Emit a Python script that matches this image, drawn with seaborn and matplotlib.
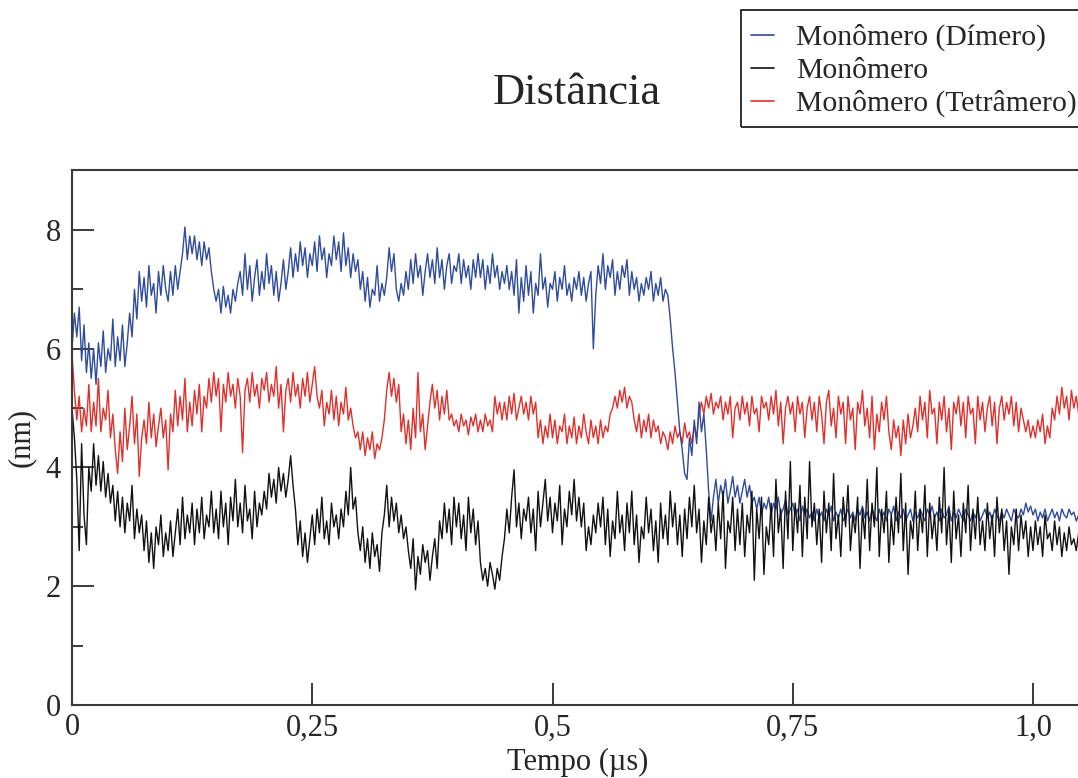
import numpy as np
import pandas as pd
import matplotlib
matplotlib.use("Agg")
import matplotlib.pyplot as plt
import matplotlib.patches as mpatches
import seaborn as sns
from matplotlib.ticker import FixedLocator

dt = 0.0025
series_names = ["Monômero (Dímero)", "Monômero", "Monômero (Tetrâmero)"]
series_colors = ["#2f4b9b", "#111111", "#e0302c"]

dimero = [
    6.0, 6.6, 6.2, 6.7, 5.8, 6.4, 5.6, 6.1, 5.5, 6.0,
    5.4, 6.1, 5.7, 6.3, 5.6, 6.0, 5.8, 6.5, 5.7, 6.2,
    5.8, 6.4, 5.7, 6.1, 6.6, 6.2, 7.0, 6.5, 7.3, 6.8,
    7.2, 6.7, 7.4, 6.9, 7.1, 6.6, 7.3, 6.9, 7.4, 7.0,
    6.8, 7.3, 6.9, 7.4, 7.0, 7.3, 7.6, 8.05, 7.5, 7.9,
    7.6, 7.9, 7.5, 7.8, 7.4, 7.8, 7.5, 7.7, 7.3, 7.0,
    6.8, 7.0, 6.6, 7.05, 6.7, 6.9, 6.6, 7.0, 6.8, 7.1,
    7.3, 6.9, 7.6, 7.0, 7.4, 6.8, 7.2, 7.5, 6.9, 7.3,
    7.0, 7.6, 7.1, 7.4, 6.9, 7.3, 6.8, 7.1, 7.5, 7.0,
    7.3, 7.7, 7.2, 7.6, 7.3, 7.8, 7.4, 7.7, 7.2, 7.6,
    7.4, 7.8, 7.3, 7.9, 7.5, 7.7, 7.2, 7.6, 7.4, 7.9,
    7.5, 7.8, 7.3, 7.95, 7.4, 7.7, 7.2, 7.6, 7.3, 7.5,
    7.0, 7.3, 6.8, 7.2, 6.7, 7.0, 6.9, 7.4, 6.8, 7.1,
    6.9, 7.2, 7.7, 7.3, 7.6, 7.0, 6.8, 7.1, 6.9, 7.3,
    7.0, 7.5, 7.1, 7.6, 7.2, 7.4, 6.9, 7.3, 7.6, 7.2,
    7.5, 7.1, 7.7, 7.2, 7.5, 7.0, 7.4, 7.6, 7.1, 7.4,
    7.3, 7.6, 7.1, 7.5, 7.2, 7.4, 7.0, 7.5, 7.2, 7.6,
    7.2, 7.5, 7.0, 7.4, 7.1, 7.6, 7.2, 7.4, 7.0, 7.3,
    7.1, 7.4, 7.0, 7.3, 6.9, 7.5, 6.6, 7.2, 6.8, 7.4,
    6.9, 7.3, 6.6, 7.1, 6.9, 7.6, 7.0, 7.2, 6.7, 7.1,
    7.0, 7.3, 6.8, 7.2, 7.0, 7.4, 6.9, 7.1, 6.8, 7.2,
    7.0, 7.3, 6.9, 7.2, 6.8, 7.1, 7.3, 6.0, 6.9, 7.4,
    7.1, 7.6, 7.0, 7.4, 7.2, 7.5, 6.9, 7.3, 7.0, 7.4,
    7.2, 7.5, 6.9, 7.3, 7.0, 7.2, 6.8, 7.1, 6.9, 7.2,
    7.0, 7.3, 6.8, 7.1, 6.9, 7.2, 6.8, 7.0, 6.9, 6.5,
    6.0, 5.6, 5.1, 4.6, 4.3, 3.9, 3.8, 4.5, 4.2, 4.8,
    4.4, 5.1, 4.6, 4.9, 4.3, 3.6, 3.1, 3.5, 3.8, 3.4,
    3.7, 3.5, 3.8, 3.4, 3.6, 3.85, 3.5, 3.7, 3.4, 3.6,
    3.8, 3.5, 3.7, 3.4, 3.5, 3.3, 3.5, 3.2, 3.4, 3.3,
    3.5, 3.2, 3.4, 3.3, 3.5, 3.2, 3.3, 3.45, 3.2, 3.3,
    3.4, 3.2, 3.3, 3.1, 3.35, 3.2, 3.3, 3.15, 3.25, 3.1,
    3.3, 3.15, 3.25, 3.1, 3.3, 3.2, 3.35, 3.1, 3.25, 3.15,
    3.3, 3.1, 3.2, 3.3, 3.15, 3.25, 3.1, 3.3, 3.2, 3.35,
    3.15, 3.25, 3.1, 3.3, 3.2, 3.1, 3.3, 3.15, 3.25, 3.1,
    3.3, 3.2, 3.35, 3.1, 3.25, 3.15, 3.3, 3.1, 3.2, 3.3,
    3.1, 3.25, 3.15, 3.3, 3.2, 3.1, 3.3, 3.2, 3.35, 3.15,
    3.25, 3.1, 3.3, 3.15, 3.2, 3.35, 3.1, 3.25, 3.15, 3.3,
    3.2, 3.1, 3.3, 3.2, 3.1, 3.25, 3.15, 3.3, 3.1, 3.2,
    3.3, 3.15, 3.25, 3.1, 3.3, 3.2, 3.1, 3.25, 3.15, 3.3,
    3.2, 3.1, 3.3, 3.2, 3.15, 3.3, 3.2, 3.4, 3.25, 3.35,
    3.2, 3.3, 3.1, 3.25, 3.15, 3.3, 3.1, 3.2, 3.3, 3.15,
    3.25, 3.1, 3.3, 3.2, 3.15, 3.3, 3.2, 3.25, 3.1, 3.2,
]

monomero = [
    5.0, 4.5, 3.8, 2.6, 4.4, 3.2, 2.7, 4.0, 3.6, 4.4,
    3.7, 4.2, 3.6, 4.1, 3.5, 3.9, 3.4, 3.7, 3.1, 3.6,
    3.0, 3.5, 2.9, 3.4, 3.1, 3.7, 2.8, 3.3, 2.9, 3.2,
    2.6, 3.1, 2.4, 2.9, 2.3, 3.0, 2.7, 3.2, 2.5, 2.9,
    2.6, 3.1, 2.5, 2.9, 3.3, 2.7, 3.5, 2.8, 3.2, 2.9,
    3.4, 2.7, 3.3, 2.9, 3.5, 2.8, 3.2, 3.0, 3.6, 2.9,
    3.3, 2.8, 3.6, 3.0, 3.4, 2.7, 3.5, 3.1, 3.8, 3.0,
    3.4, 2.9, 3.7, 3.1, 3.3, 2.8, 3.6, 3.0, 3.4, 3.2,
    3.6, 3.3, 3.9, 3.5, 3.8, 3.4, 4.0, 3.6, 3.9, 3.5,
    3.8, 4.2, 3.7, 3.3, 2.7, 3.1, 2.5, 2.9, 2.4, 2.8,
    3.2, 2.7, 3.3, 2.9, 3.5, 2.8, 3.1, 2.7, 3.4, 3.0,
    3.2, 2.8, 3.3, 3.0, 3.6, 3.2, 4.0, 3.3, 3.5, 2.9,
    2.6, 3.0, 2.4, 2.8, 2.3, 2.9, 2.5, 2.7, 2.25, 2.9,
    3.2, 3.7, 3.0, 3.5, 3.1, 3.4, 2.9, 3.2, 2.8, 3.0,
    2.6, 2.3, 2.8, 1.94, 2.5, 2.2, 2.7, 2.4, 2.6, 2.1,
    2.5, 2.8, 2.3, 3.1, 2.8, 3.4, 2.9, 3.3, 2.7, 3.5,
    3.0, 3.4, 2.8, 3.2, 2.6, 3.5, 2.9, 3.3, 2.7, 3.1,
    2.4, 2.1, 2.3, 2.0, 2.4, 2.2, 1.95, 2.3, 2.1, 2.5,
    2.8, 3.3, 2.9, 3.5, 3.96, 3.0, 3.4, 2.8, 3.3, 3.1,
    3.5, 2.9, 3.3, 2.6, 3.6, 3.0, 3.4, 3.8, 3.1, 3.5,
    2.9, 3.4, 3.1, 3.7, 2.7, 3.3, 3.0, 3.6, 3.2, 3.8,
    3.1, 3.5, 3.0, 3.4, 2.6, 3.0, 2.7, 3.2, 2.9, 3.4,
    3.0, 3.5, 2.7, 3.3, 2.5, 3.1, 2.8, 3.6, 2.9, 3.2,
    2.6, 3.4, 2.9, 3.6, 2.7, 3.2, 2.4, 3.0, 2.8, 3.5,
    2.9, 3.3, 2.6, 3.1, 2.4, 3.4, 2.8, 3.2, 2.7, 3.6,
    3.0, 3.4, 2.7, 3.2, 2.5, 3.3, 2.8, 3.5, 3.0, 3.7,
    2.9, 3.3, 2.4, 3.1, 2.7, 3.5, 2.9, 3.2, 2.6, 3.4,
    2.8, 3.6, 2.3, 3.1, 2.9, 3.5, 2.6, 3.3, 2.7, 3.4,
    2.5, 3.2, 2.9, 3.6, 2.1, 3.3, 2.8, 3.5, 2.2, 3.0,
    2.7, 3.4, 2.5, 3.8, 2.9, 3.3, 2.3, 3.6, 2.8, 4.1,
    2.6, 3.4, 2.9, 3.7, 2.5, 3.5, 2.8, 4.1, 3.0, 3.4,
    2.7, 3.3, 2.4, 3.6, 2.9, 3.4, 2.6, 3.9, 2.8, 3.2,
    2.5, 3.5, 3.0, 3.7, 2.6, 3.2, 2.9, 3.5, 2.3, 3.3,
    2.8, 3.8, 2.6, 3.4, 3.0, 4.0, 2.5, 3.3, 2.9, 3.6,
    2.4, 3.2, 2.7, 3.5, 2.9, 3.9, 2.6, 3.4, 2.2, 3.1,
    2.8, 3.6, 2.6, 3.3, 2.9, 3.7, 2.5, 3.4, 2.8, 3.2,
    2.6, 3.5, 2.9, 4.0, 2.7, 3.3, 2.4, 3.6, 2.8, 3.2,
    2.5, 3.4, 2.9, 3.7, 2.6, 3.3, 2.8, 3.5, 2.7, 3.1,
    2.6, 3.4, 2.8, 3.2, 2.5, 3.5, 2.9, 3.3, 2.6, 3.1,
    2.2, 3.0, 2.7, 3.3, 2.6, 3.2, 2.8, 3.1, 2.5, 3.0,
    2.6, 3.1, 2.7, 3.0, 2.5, 3.2, 2.8, 2.9, 2.6, 3.1,
    2.7, 3.0, 2.5, 2.9, 2.6, 3.0, 2.7, 2.8, 2.6, 2.9,
]

tetramero = [
    5.9, 5.3, 4.8, 5.2, 4.6, 5.0, 4.7, 5.4, 4.6, 5.1,
    4.7, 5.5, 4.6, 5.0, 4.8, 5.3, 4.5, 4.9, 4.3, 3.9,
    4.6, 4.1, 5.0, 4.3, 4.7, 5.2, 4.4, 4.9, 3.85, 4.5,
    4.8, 4.4, 5.1, 4.5, 4.9, 4.35, 4.7, 5.0, 4.5, 4.8,
    3.96, 4.9, 4.6, 5.3, 4.7, 5.2, 4.8, 5.5, 4.6, 5.1,
    4.7, 5.3, 4.9, 5.4, 4.6, 5.2, 5.0, 5.5, 5.1, 5.6,
    5.2, 5.5, 4.6, 5.4, 5.1, 5.6, 5.2, 5.4, 5.0, 5.5,
    5.2, 4.25, 5.3, 5.5, 5.1, 5.6, 5.2, 5.4, 5.0, 5.5,
    5.3, 5.6, 5.1, 5.4, 5.2, 5.7, 5.0, 5.4, 4.6, 5.3,
    5.5, 5.1, 5.6, 5.2, 5.4, 5.0, 5.5, 5.2, 5.6, 5.1,
    5.4, 5.7, 5.2, 5.0, 5.3, 4.7, 5.1, 4.9, 5.3, 4.8,
    5.2, 4.7, 5.1, 4.9, 5.35, 4.8, 5.0, 4.7, 4.5, 4.6,
    4.3, 4.6, 4.2, 4.5, 4.3, 4.6, 4.15, 4.4, 4.3, 4.5,
    4.8, 5.3, 5.6, 5.2, 5.5, 5.1, 5.4, 4.6, 4.9, 4.4,
    4.8, 4.3, 5.0, 4.5, 5.6, 4.6, 4.9, 4.3, 4.7, 5.1,
    5.4, 5.0, 5.3, 4.8, 5.2, 4.9, 5.3, 4.8, 4.9, 4.7,
    4.8, 4.6, 4.9, 4.7, 4.8, 4.55, 4.85, 4.7, 4.9, 4.6,
    4.8, 4.6, 4.9, 4.7, 4.8, 4.6, 5.2, 4.9, 5.1, 4.8,
    5.1, 4.8, 5.2, 4.9, 5.25, 4.8, 5.0, 5.2, 4.9, 5.1,
    4.8, 5.2, 4.9, 5.1, 4.5, 4.8, 4.4, 4.7, 4.5, 4.9,
    4.5, 4.8, 4.4, 4.7, 4.6, 4.9, 4.4, 4.7, 4.5, 4.85,
    4.4, 4.7, 4.5, 4.9, 4.6, 4.4, 4.8, 4.5, 4.7, 4.4,
    4.8, 4.5, 4.7, 4.6, 4.9, 5.0, 5.2, 5.0, 5.3, 5.1,
    5.35, 5.0, 5.2, 5.1, 4.8, 4.6, 4.9, 4.5, 4.8, 4.6,
    4.9, 4.5, 4.8, 4.6, 4.7, 4.4, 4.6, 4.5, 4.3, 4.6,
    4.4, 4.7, 4.5, 4.6, 4.4, 4.75, 4.5, 4.6, 4.4, 4.7,
    4.5, 4.9, 5.1, 4.9, 5.2, 5.0, 5.25, 4.9, 5.1, 5.0,
    5.2, 4.8, 5.1, 4.9, 5.2, 4.5, 5.0, 5.1, 4.8, 5.2,
    4.9, 5.1, 4.7, 5.2, 4.9, 5.0, 4.6, 5.2, 5.0, 5.1,
    4.8, 5.2, 4.9, 5.3, 4.7, 5.1, 4.4, 5.0, 5.2, 4.9,
    5.1, 4.6, 5.2, 4.9, 5.1, 4.5, 5.0, 5.2, 4.8, 5.1,
    4.6, 5.2, 4.9, 4.4, 5.1, 5.3, 4.7, 5.0, 4.5, 5.2,
    4.9, 5.1, 4.4, 5.2, 4.8, 5.0, 4.3, 5.1, 4.9, 5.3,
    4.7, 5.0, 4.5, 5.2, 4.3, 4.9, 4.6, 5.1, 4.8, 5.2,
    4.6, 4.3, 4.8, 4.5, 4.7, 4.2, 4.8, 4.4, 4.9, 4.5,
    4.7, 5.0, 4.6, 5.2, 4.8, 5.1, 4.5, 5.3, 4.9, 5.0,
    4.4, 5.1, 4.8, 5.2, 4.6, 5.0, 4.3, 5.1, 4.9, 5.2,
    4.7, 5.1, 4.5, 5.2, 4.9, 5.0, 4.4, 5.2, 4.8, 5.1,
    4.6, 5.0, 5.2, 4.7, 5.1, 4.4, 5.0, 5.2, 4.8, 5.1,
    4.9, 5.2, 4.7, 5.1, 4.6, 5.0, 4.8, 4.6, 4.8, 4.5,
    4.7, 4.5, 4.8, 4.6, 4.9, 4.4, 4.7, 4.5, 5.0, 4.8,
    5.2, 4.9, 5.35, 5.0, 5.2, 4.8, 5.3, 5.0, 5.2, 4.9,
]

x_ticks = [0, 0.25, 0.5, 0.75, 1.0]
x_tick_labels = ["0", "0,25", "0,5", "0,75", "1,0"]
y_ticks = [0, 2, 4, 6, 8]
y_tick_labels = ["0", "2", "4", "6", "8"]
y_minor_ticks = [1, 3, 5, 7]

# ---------------- build long-form table ----------------
frames = []
for name, vals in zip(series_names, [dimero, monomero, tetramero]):
    t = np.arange(len(vals)) * dt
    frames.append(pd.DataFrame({"t": t, "d": vals, "serie": name}))
df = pd.concat(frames, ignore_index=True)

# ---------------- style ----------------
sns.set_theme(style="ticks")
plt.rcParams["font.family"] = ["Liberation Serif", "DejaVu Serif"]

W, H = 1078, 778
fig = plt.figure(figsize=(W / 100, H / 100), dpi=100)
ax = fig.add_axes([72 / W, 73 / H, (W - 72) / W, (705 - 170) / H])

palette = dict(zip(series_names, series_colors))
draw_order = ["Monômero (Tetrâmero)", "Monômero (Dímero)", "Monômero"]
for name in draw_order:
    sns.lineplot(data=df[df["serie"] == name], x="t", y="d", color=palette[name],
                 lw=1.0, estimator=None, sort=False, ax=ax, label=name, legend=False)

ax.set_xlim(0, (W - 72) / 961)
ax.set_ylim(0, 9.01)

spine_c = "#3a3a3a"
for s in ["left", "bottom", "top"]:
    ax.spines[s].set_color(spine_c)
    ax.spines[s].set_linewidth(1.5)
ax.spines["right"].set_visible(False)

ax.set_xticks(x_ticks, labels=x_tick_labels)
ax.set_yticks(y_ticks, labels=y_tick_labels)
ax.yaxis.set_minor_locator(FixedLocator(y_minor_ticks))
ax.tick_params(axis="both", which="major", direction="in", length=16, width=1.4,
               color=spine_c, labelsize=22, top=False, right=False)
ax.tick_params(axis="y", which="minor", direction="in", length=8, width=1.4,
               color=spine_c, right=False)
ax.tick_params(axis="x", which="major", pad=6)
ax.tick_params(axis="y", which="major", pad=8)

ax.set_xlabel("Tempo (µs)", fontsize=22)
ax.set_ylabel("(nm)", fontsize=22)
ax.xaxis.set_label_coords(0.503, -0.080)
ax.yaxis.set_label_coords(-0.036, 0.5)

fig.text(577 / W, 1 - 93 / H, "Distância", ha="center", va="center", fontsize=32)

# legend (frameless, in reference order) plus its box
handles, labels = ax.get_legend_handles_labels()
hmap = dict(zip(labels, handles))
leg = fig.legend([hmap[n] for n in series_names], series_names,
                 loc="upper left", bbox_to_anchor=(751 / W, 1 - 24 / H),
                 borderaxespad=0, borderpad=0, fontsize=21.3, frameon=False,
                 handlelength=0.78, handletextpad=0.74, labelspacing=0.2)
for ln in leg.get_lines():
    ln.set_linewidth(1.2)
box = mpatches.Rectangle((741 / W, 1 - 127 / H), 400 / W, (127 - 10) / H,
                         transform=fig.transFigure, fill=False,
                         edgecolor="#222222", lw=1.3)
fig.add_artist(box)

fig.savefig("out.png", dpi=100)
